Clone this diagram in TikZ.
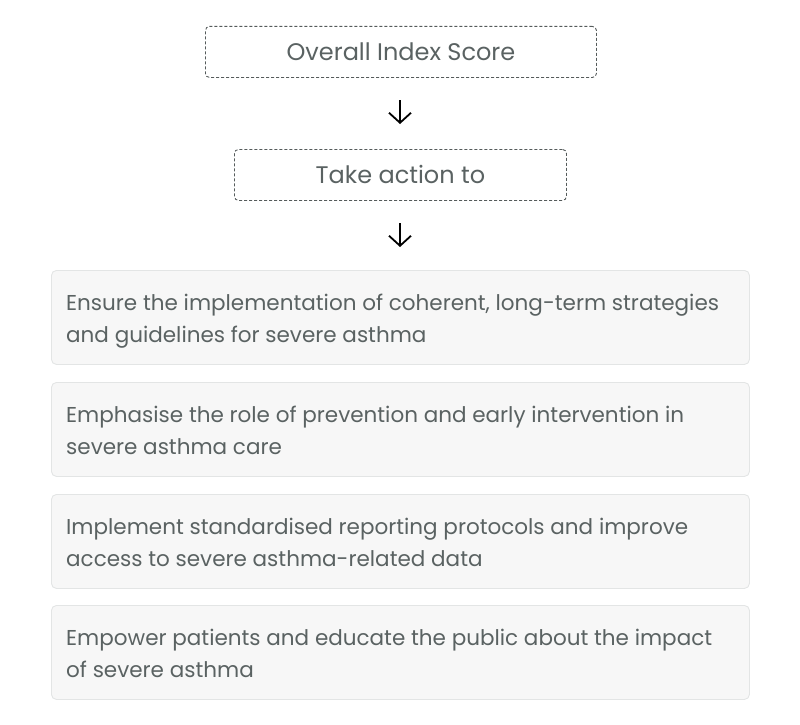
\documentclass[tikz,border=0pt]{standalone}
\usepackage{fontspec}
\setmainfont{Poppins}
\usetikzlibrary{arrows.meta,positioning}
\definecolor{txt}{HTML}{5A6262}
\definecolor{dashc}{HTML}{555B5B}
\definecolor{boxfill}{HTML}{F7F7F7}
\definecolor{boxdraw}{HTML}{E3E5E5}
\tikzset{
  headbox/.style={draw=dashc, densely dashed, line width=0.9pt, rounded corners=4pt, text=txt,
    font=\fontsize{24}{28}\selectfont, inner sep=0pt, anchor=north west},
  itembox/.style={draw=boxdraw, fill=boxfill, line width=0.9pt, rounded corners=5pt,
    inner sep=0pt, minimum width=698pt, minimum height=94pt, anchor=north west},
  itemtext/.style={text=txt, font=\fontsize{21.5}{32}\selectfont, align=left, inner sep=0pt, anchor=base west},
  arr/.style={line width=1.8pt, -{Straight Barb[length=10pt,width=22pt,line width=1.8pt]}, black}
}
\begin{document}
\begin{tikzpicture}[x=1pt,y=-1pt]
\useasboundingbox (0,0) rectangle (800,725);
\node[headbox, minimum width=391pt, minimum height=51pt] (score) at (205,26) {Overall Index Score};
\node[headbox, minimum width=332pt, minimum height=51pt] (take) at (234,149) {Take action to};
\coordinate (a1s) at (400,100);
\coordinate (a1e) at (400,124);
\coordinate (a2s) at (400,223);
\coordinate (a2e) at (400,247);
\draw[arr] (a1s) -- (a1e);
\draw[arr] (a2s) -- (a2e);
\node[itembox] (i1) at (51,270) {};
\node[itembox] (i2) at (51,382) {};
\node[itembox] (i3) at (51,494) {};
\node[itembox] (i4) at (51,605) {};
\node[itemtext] (t1) at ([xshift=15pt,yshift=-72pt]i1.north west) {Ensure the implementation of coherent, long-term strategies\\and guidelines for severe asthma};
\node[itemtext] (t2) at ([xshift=15pt,yshift=-72pt]i2.north west) {Emphasise the role of prevention and early intervention in\\severe asthma care};
\node[itemtext] (t3) at ([xshift=15pt,yshift=-72pt]i3.north west) {Implement standardised reporting protocols and improve\\access to severe asthma-related data};
\node[itemtext] (t4) at ([xshift=15pt,yshift=-72pt]i4.north west) {Empower patients and educate the public about the impact\\of severe asthma};
\end{tikzpicture}
\end{document}
